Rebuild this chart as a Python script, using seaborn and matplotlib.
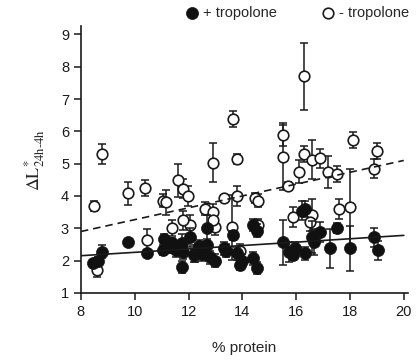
import matplotlib
matplotlib.use("Agg")
import matplotlib.pyplot as plt
import seaborn as sns
import pandas as pd
import numpy as np

# + tropolone (filled)
with_x = [8.45, 8.63, 8.8, 9.75, 10.45, 11.05, 11.1, 11.3, 11.55, 11.75, 11.75, 12.05, 12.2, 12.7,
          13.0, 13.4, 11.8, 13.65, 13.3, 13.8, 13.9, 14.4, 14.55, 14.4, 14.55, 15.5, 15.75, 15.95,
          16.2, 16.33, 15.9, 16.33, 16.6, 16.65, 16.9, 17.5, 17.25, 18.0, 18.9, 19.05,
          12.4, 12.5, 11.4, 12.7, 12.8, 14.0]
with_y = [1.92, 2.0, 2.27, 2.58, 2.23, 2.32, 2.68, 2.42, 2.32, 2.53, 1.8, 2.72, 2.17, 3.0,
          2.0, 2.3, 2.25, 2.78, 2.38, 2.23, 1.86, 3.1, 2.93, 2.07, 1.77, 2.57, 2.27, 2.38,
          3.55, 3.6, 2.17, 2.23, 2.72, 2.57, 2.88, 3.0, 2.38, 2.38, 2.72, 2.32,
          2.45, 2.2, 2.55, 2.47, 2.1, 2.0]
with_err = [0.1, 0.1, 0.2, 0.1, 0.1, 0.15, 0.15, 0.2, 0.2, 0.3, 0.2, 0.3, 0.2, 0.4,
            0.2, 0.2, 0.2, 0.15, 0.2, 0.2, 0.15, 0.2, 0.2, 0.2, 0.2, 0.7, 0.3, 0.2,
            0.3, 0.25, 0.15, 0.2, 0.5, 0.4, 0.3, 0.15, 0.6, 0.7, 0.3, 0.3,
            0.2, 0.2, 0.15, 0.2, 0.2, 0.2]

# - tropolone (open)
without_x = [8.5, 8.8, 8.6, 9.75, 10.4, 10.45, 11.05, 11.15, 11.4, 11.6, 11.8, 11.98, 12.9, 13.65,
             13.8, 15.5, 15.5, 15.7, 13.3, 13.8, 14.47, 14.6, 12.6, 12.9, 15.9, 12.05, 13.0, 13.6,
             14.6, 12.25, 13.9, 16.3, 18.1, 16.3, 16.6, 16.9, 16.1, 17.2, 17.5, 19.0, 18.9, 17.6,
             18.0, 16.6, 16.5, 11.8, 12.9]
without_y = [3.7, 5.3, 1.7, 4.08, 4.25, 2.63, 3.85, 3.8, 3.0, 4.48, 4.23, 4.0, 5.03, 6.38,
             5.15, 5.9, 5.2, 4.32, 3.93, 4.0, 3.93, 3.85, 3.6, 3.5, 3.35, 3.1, 3.03, 3.03,
             3.1, 2.22, 2.3, 7.7, 5.74, 5.3, 5.12, 5.17, 4.75, 4.75, 4.68, 5.4, 4.85, 3.6,
             3.65, 3.4, 3.2, 3.25, 3.25]
without_err = [0.15, 0.3, 0.2, 0.35, 0.25, 0.35, 0.2, 0.4, 0.25, 0.5, 0.3, 0.3, 0.6, 0.25,
               0.15, 0.35, 1.0, 0.1, 0.1, 0.3, 0.15, 0.2, 0.2, 0.25, 0.3, 0.3, 0.25, 1.0,
               0.2, 0.25, 0.2, 1.05, 0.25, 0.25, 0.6, 0.3, 0.35, 0.5, 0.25, 0.25, 0.3, 0.3,
               1.2, 0.5, 0.3, 0.3, 0.2]

# regression lines (endpoints)
fit_x = [8, 20]
fit_with = [2.15, 2.78]
fit_without = [2.9, 5.1]

legend_labels = ["+ tropolone", "- tropolone"]

sns.set_style("ticks")
plt.rcParams['font.family'] = ['Liberation Sans', 'DejaVu Sans']
plt.rcParams['mathtext.fontset'] = 'stix'

fig = plt.figure(figsize=(4.17, 3.62), dpi=100)
ax = fig.add_axes([0.194, 0.191, 0.784, 0.736])

df_with = pd.DataFrame({"x": with_x, "y": with_y, "err": with_err})
df_without = pd.DataFrame({"x": without_x, "y": without_y, "err": without_err})

ax.errorbar(df_without.x, df_without.y, yerr=df_without.err, fmt='none', ecolor='#1a1a1a',
            elinewidth=1.1, capsize=2.8, capthick=1.1, zorder=2)
sns.scatterplot(data=df_without, x="x", y="y", ax=ax, marker='o', s=58, facecolor='white',
                edgecolor='#1a1a1a', linewidth=1.2, zorder=3, label=legend_labels[1])
ax.errorbar(df_with.x, df_with.y, yerr=df_with.err, fmt='none', ecolor='#1a1a1a',
            elinewidth=1.1, capsize=2.8, capthick=1.1, zorder=4)
sns.scatterplot(data=df_with, x="x", y="y", ax=ax, marker='o', s=75, color='#111111',
                edgecolor='#111111', linewidth=0.5, zorder=5, label=legend_labels[0])

sns.lineplot(x=fit_x, y=fit_with, ax=ax, color='#1a1a1a', linewidth=1.2, zorder=6)
sns.lineplot(x=fit_x, y=fit_without, ax=ax, color='#1a1a1a', linewidth=1.2,
             linestyle=(0, (4.5, 3)), zorder=6)

ax.set_xlim(8, 20.15)
ax.set_ylim(1, 9.25)
ax.set_xticks([8, 10, 12, 14, 16, 18, 20])
ax.set_yticks(range(1, 10))
ax.tick_params(axis='both', labelsize=10.5, length=5, width=1.1, direction='out', colors='#1a1a1a')
for s in ['left', 'bottom']:
    ax.spines[s].set_linewidth(1.2)
    ax.spines[s].set_color('#1a1a1a')
sns.despine(ax=ax)

ax.set_xlabel("% protein", fontsize=11, labelpad=16)
ax.set_ylabel(r"$\mathrm{\Delta L^{*}_{24h\text{-}4h}}$", fontsize=13, labelpad=10)

ax.get_legend().remove()
h, l = ax.get_legend_handles_labels()
order = [l.index(legend_labels[0]), l.index(legend_labels[1])]
fig.legend([h[i] for i in order], [l[i] for i in order], loc='upper right',
           bbox_to_anchor=(1.012, 1.02), ncol=2, frameon=False, fontsize=10.5,
           handletextpad=0.25, columnspacing=3.0, handlelength=1.0, markerscale=1.0)

fig.savefig("out.png", dpi=100)
